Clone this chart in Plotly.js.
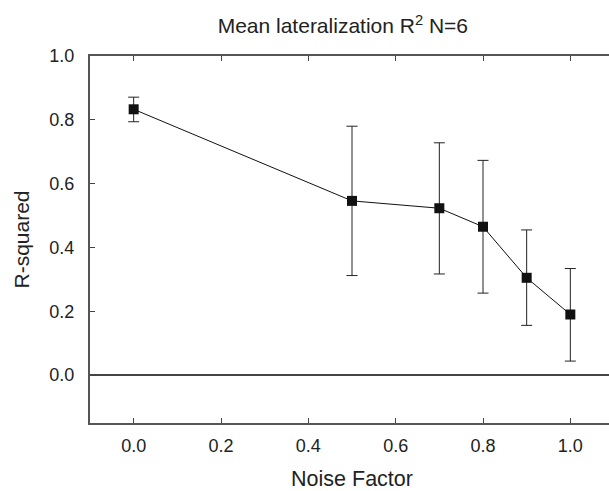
<!DOCTYPE html>
<html>
<head>
<meta charset="utf-8">
<script src="https://cdn.plot.ly/plotly-3.0.1.min.js"></script>
<style>
html, body { margin: 0; padding: 0; overflow: hidden; background: #fff; }
#chart { width: 620px; height: 491px; }
</style>
</head>
<body>
<div id="chart"></div>
<script>
const noiseFactor = [0.0, 0.5, 0.7, 0.8, 0.9, 1.0];
const meanR2 = [0.833, 0.546, 0.523, 0.465, 0.305, 0.190];
const errUpper = [0.038, 0.234, 0.205, 0.208, 0.150, 0.144];
const errLower = [0.039, 0.234, 0.206, 0.208, 0.149, 0.146];
const xTickVals = [0.0, 0.2, 0.4, 0.6, 0.8, 1.0];
const xTickText = ['0.0', '0.2', '0.4', '0.6', '0.8', '1.0'];
const yTickVals = [0.0, 0.2, 0.4, 0.6, 0.8, 1.0];
const yTickText = ['0.0', '0.2', '0.4', '0.6', '0.8', '1.0'];

const fontFam = 'Liberation Sans, Arial, sans-serif';

const trace = {
  x: noiseFactor,
  y: meanR2,
  type: 'scatter',
  mode: 'lines+markers',
  line: { color: '#111', width: 1 },
  marker: { symbol: 'square', size: 10, color: '#111' },
  error_y: {
    type: 'data',
    symmetric: false,
    array: errUpper,
    arrayminus: errLower,
    color: '#222',
    thickness: 1,
    width: 5.5
  },
  showlegend: false
};

const layout = {
  width: 620,
  height: 491,
  margin: { l: 90, r: 6, t: 56, b: 68 },
  paper_bgcolor: '#fff',
  plot_bgcolor: '#fff',
  font: { family: fontFam, color: '#222', size: 18 },
  title: {
    text: 'Mean lateralization R<sup>2</sup> N=6',
    font: { family: fontFam, size: 21, color: '#222' },
    xref: 'container', yref: 'container',
    x: 0.553, xanchor: 'center', y: 0.947, yanchor: 'middle'
  },
  xaxis: {
    range: [-0.1, 1.1],
    tickvals: xTickVals,
    ticktext: xTickText,
    ticks: 'inside',
    ticklen: 5,
    tickwidth: 1,
    tickcolor: '#444',
    showline: true,
    linecolor: '#555',
    linewidth: 2,
    mirror: 'ticks',
    showgrid: false,
    zeroline: false,
    ticklabelstandoff: 5,
    tickfont: { size: 18, color: '#222' },
    title: { text: 'Noise Factor', font: { size: 21.5, color: '#222' }, standoff: 21 }
  },
  yaxis: {
    range: [-0.15, 1.0],
    tickvals: yTickVals,
    ticktext: yTickText,
    ticks: 'inside',
    ticklen: 5,
    tickwidth: 1,
    tickcolor: '#444',
    showline: true,
    linecolor: '#555',
    linewidth: 2,
    mirror: 'ticks',
    showgrid: false,
    zeroline: true,
    zerolinecolor: '#444',
    zerolinewidth: 1.5,
    ticklabelstandoff: 10,
    tickfont: { size: 18, color: '#222' },
    title: { text: 'R-squared', font: { size: 21, color: '#222' }, standoff: 14 }
  }
};

Plotly.newPlot('chart', [trace], layout, { displayModeBar: false, staticPlot: true });
</script>
</body>
</html>
